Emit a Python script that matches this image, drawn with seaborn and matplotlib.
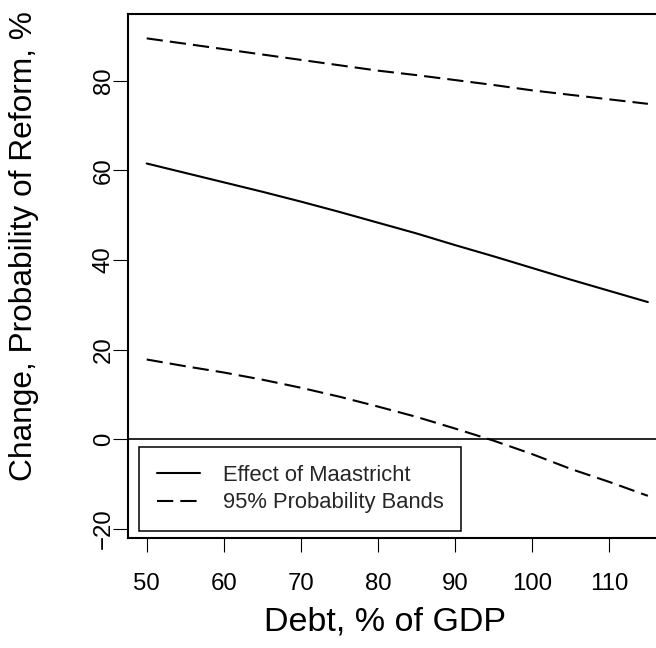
import seaborn as sns
import pandas as pd
import matplotlib.pyplot as plt

# values
debt = [50, 55, 60, 65, 70, 75, 80, 85, 90, 95, 100, 105, 110, 115]
effect = [61.5, 59.4, 57.3, 55.2, 53.0, 50.7, 48.3, 45.9, 43.3, 40.8, 38.2, 35.6, 33.1, 30.6]
upper = [89.4, 88.2, 87.0, 85.8, 84.6, 83.4, 82.2, 81.2, 80.1, 79.0, 77.8, 76.8, 75.8, 74.8]
lower = [17.8, 16.3, 14.9, 13.3, 11.5, 9.5, 7.3, 5.0, 2.4, -0.3, -3.3, -6.6, -9.5, -12.6]
x_ticks = [50, 60, 70, 80, 90, 100, 110]
y_ticks = [-20, 0, 20, 40, 60, 80]

sns.set_theme(style='white')
plt.rcParams['font.family'] = ['Liberation Sans', 'DejaVu Sans']

df = pd.DataFrame({'debt': debt, 'effect': effect, 'upper': upper, 'lower': lower})

fig = plt.figure(figsize=(6.56, 6.48), dpi=100)
ax = fig.add_axes([128 / 656, 110 / 648, 540 / 656, 524 / 648])

dash = (7.8, 3.4)
sns.lineplot(data=df, x='debt', y='effect', ax=ax, color='black', lw=1.5,
             label='Effect of Maastricht')
sns.lineplot(data=df, x='debt', y='upper', ax=ax, color='black', lw=1.5,
             label='95% Probability Bands')
sns.lineplot(data=df, x='debt', y='lower', ax=ax, color='black', lw=1.5,
             label='_nolegend_')
for line in ax.lines[1:3]:
    line.set_dashes(dash)
    line.set_dash_capstyle('butt')

ax.axhline(0, color='black', lw=1.2)

ax.set_xlim(47.575, 117.61)
ax.set_ylim(-22.0, 94.83)
ax.set_xticks(x_ticks)
ax.set_yticks(y_ticks)
for lab in ax.get_yticklabels():
    lab.set_rotation(90)
    lab.set_va('center')

ax.tick_params(axis='x', bottom=True, length=10, width=0.8, color='black',
               labelsize=17.3, pad=15, labelcolor='black')
ax.tick_params(axis='y', left=True, length=10.5, width=0.8, color='black',
               labelsize=17.3, pad=-1, labelcolor='black')

for s in ax.spines.values():
    s.set_color('black')
    s.set_linewidth(1.5)

ax.set_xlabel('Debt, % of GDP', fontsize=24.5, color='black')
ax.set_ylabel('Change, Probability of Reform, %', fontsize=22.8, color='black')
ax.xaxis.label.set_va('baseline')
ax.xaxis.set_label_coords(0.476, -0.1756)
ax.yaxis.label.set_va('baseline')
ax.yaxis.set_label_coords(-0.178, 0.557)

leg = ax.legend(loc='lower left', bbox_to_anchor=(0.021, 0.0134), borderaxespad=0,
                fontsize=15.8, handlelength=1.95, handletextpad=1.05,
                borderpad=0.8, labelspacing=0.3, fancybox=False, framealpha=1)
leg.get_frame().set_edgecolor('black')
leg.get_frame().set_linewidth(1.1)

fig.savefig('out.png', dpi=100)
